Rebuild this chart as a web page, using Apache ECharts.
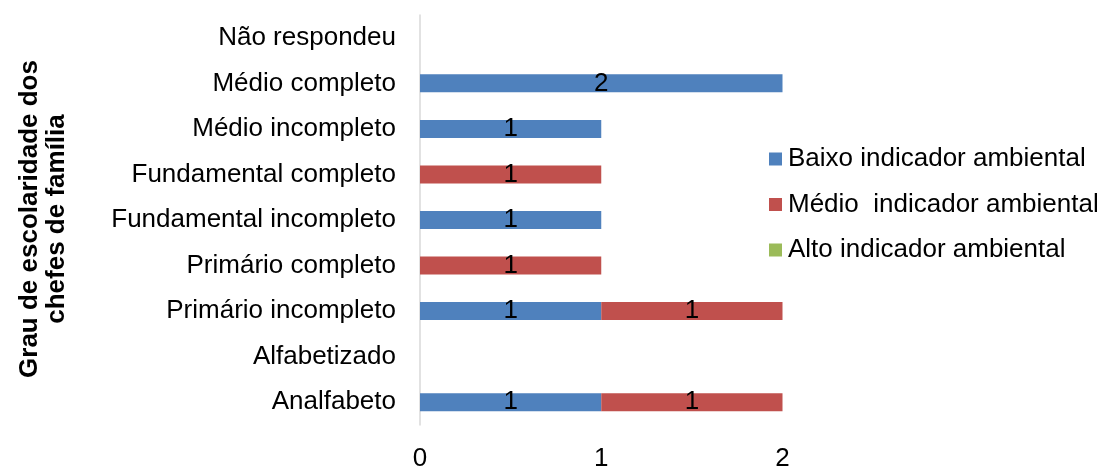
<!DOCTYPE html>
<html>
<head>
<meta charset="utf-8">
<title>Grau de escolaridade dos chefes de família</title>
<script src="https://cdn.jsdelivr.net/npm/echarts@6/dist/echarts.min.js"></script>
<style>
  html, body { margin: 0; padding: 0; background: #ffffff; }
  #chart { width: 1104px; height: 472px; }
</style>
</head>
<body>
<div id="chart"></div>
<script>
// Education levels, bottom to top
const categories = [
  'Analfabeto',
  'Alfabetizado',
  'Primário incompleto',
  'Primário completo',
  'Fundamental incompleto',
  'Fundamental completo',
  'Médio incompleto',
  'Médio completo',
  'Não respondeu'
];

// Household counts per environmental indicator level
const baixo = [1, 0, 1, 0, 1, 0, 1, 2, 0];
const medio = [1, 0, 1, 1, 0, 1, 0, 0, 0];
const alto  = [0, 0, 0, 0, 0, 0, 0, 0, 0];

const seriesNames = ['Baixo indicador ambiental', 'Médio  indicador ambiental', 'Alto indicador ambiental'];
const seriesColors = ['#4F81BD', '#C0504D', '#9BBB59'];
const xTicks = [0, 1, 2];

const FONT = '"Liberation Sans", Arial, Helvetica, sans-serif';
const FS = 26;

const chart = echarts.init(document.getElementById('chart'), null, { renderer: 'canvas' });

function barSeries(name, values, color) {
  return {
    name: name,
    type: 'bar',
    stack: 'total',
    barWidth: 18,
    data: values,
    itemStyle: { color: color },
    label: {
      show: true,
      position: 'inside',
      color: '#000000',
      fontFamily: FONT,
      fontSize: FS,
      formatter: p => (p.value ? String(p.value) : '')
    }
  };
}

chart.setOption({
  animation: false,
  backgroundColor: '#ffffff',
  textStyle: { fontFamily: FONT },
  grid: { left: 420, right: 321.5, top: 15, bottom: 42, containLabel: false },
  xAxis: {
    type: 'value',
    min: xTicks[0],
    max: xTicks[xTicks.length - 1],
    interval: 1,
    axisLine: { show: false },
    axisTick: { show: false },
    splitLine: { show: false },
    axisLabel: {
      margin: 21,
      color: '#000000',
      fontFamily: FONT,
      fontSize: FS
    }
  },
  yAxis: {
    type: 'category',
    data: categories,
    axisLine: { show: true, lineStyle: { color: '#d9d9d9', width: 1.5 } },
    axisTick: { show: false },
    splitLine: { show: false },
    axisLabel: {
      margin: 24,
      color: '#000000',
      fontFamily: FONT,
      fontSize: FS,
      padding: [4, 0, 0, 0]
    }
  },
  legend: {
    orient: 'vertical',
    left: 764,
    top: 141,
    itemWidth: 13,
    itemHeight: 13,
    itemGap: 19.5,
    icon: 'rect',
    data: seriesNames,
    textStyle: {
      color: '#000000',
      fontFamily: FONT,
      fontSize: FS,
      lineHeight: FS,
      padding: [0, 0, 0, 1]
    }
  },
  graphic: [{
    type: 'text',
    x: 43,
    y: 219,
    rotation: Math.PI / 2,
    style: {
      text: 'Grau de escolaridade dos\nchefes de família',
      align: 'center',
      verticalAlign: 'middle',
      fontFamily: FONT,
      fontWeight: 'bold',
      fontSize: 26,
      lineHeight: 27,
      fill: '#000000'
    }
  }],
  series: [
    barSeries(seriesNames[0], baixo, seriesColors[0]),
    barSeries(seriesNames[1], medio, seriesColors[1]),
    barSeries(seriesNames[2], alto, seriesColors[2])
  ]
});
</script>
</body>
</html>
